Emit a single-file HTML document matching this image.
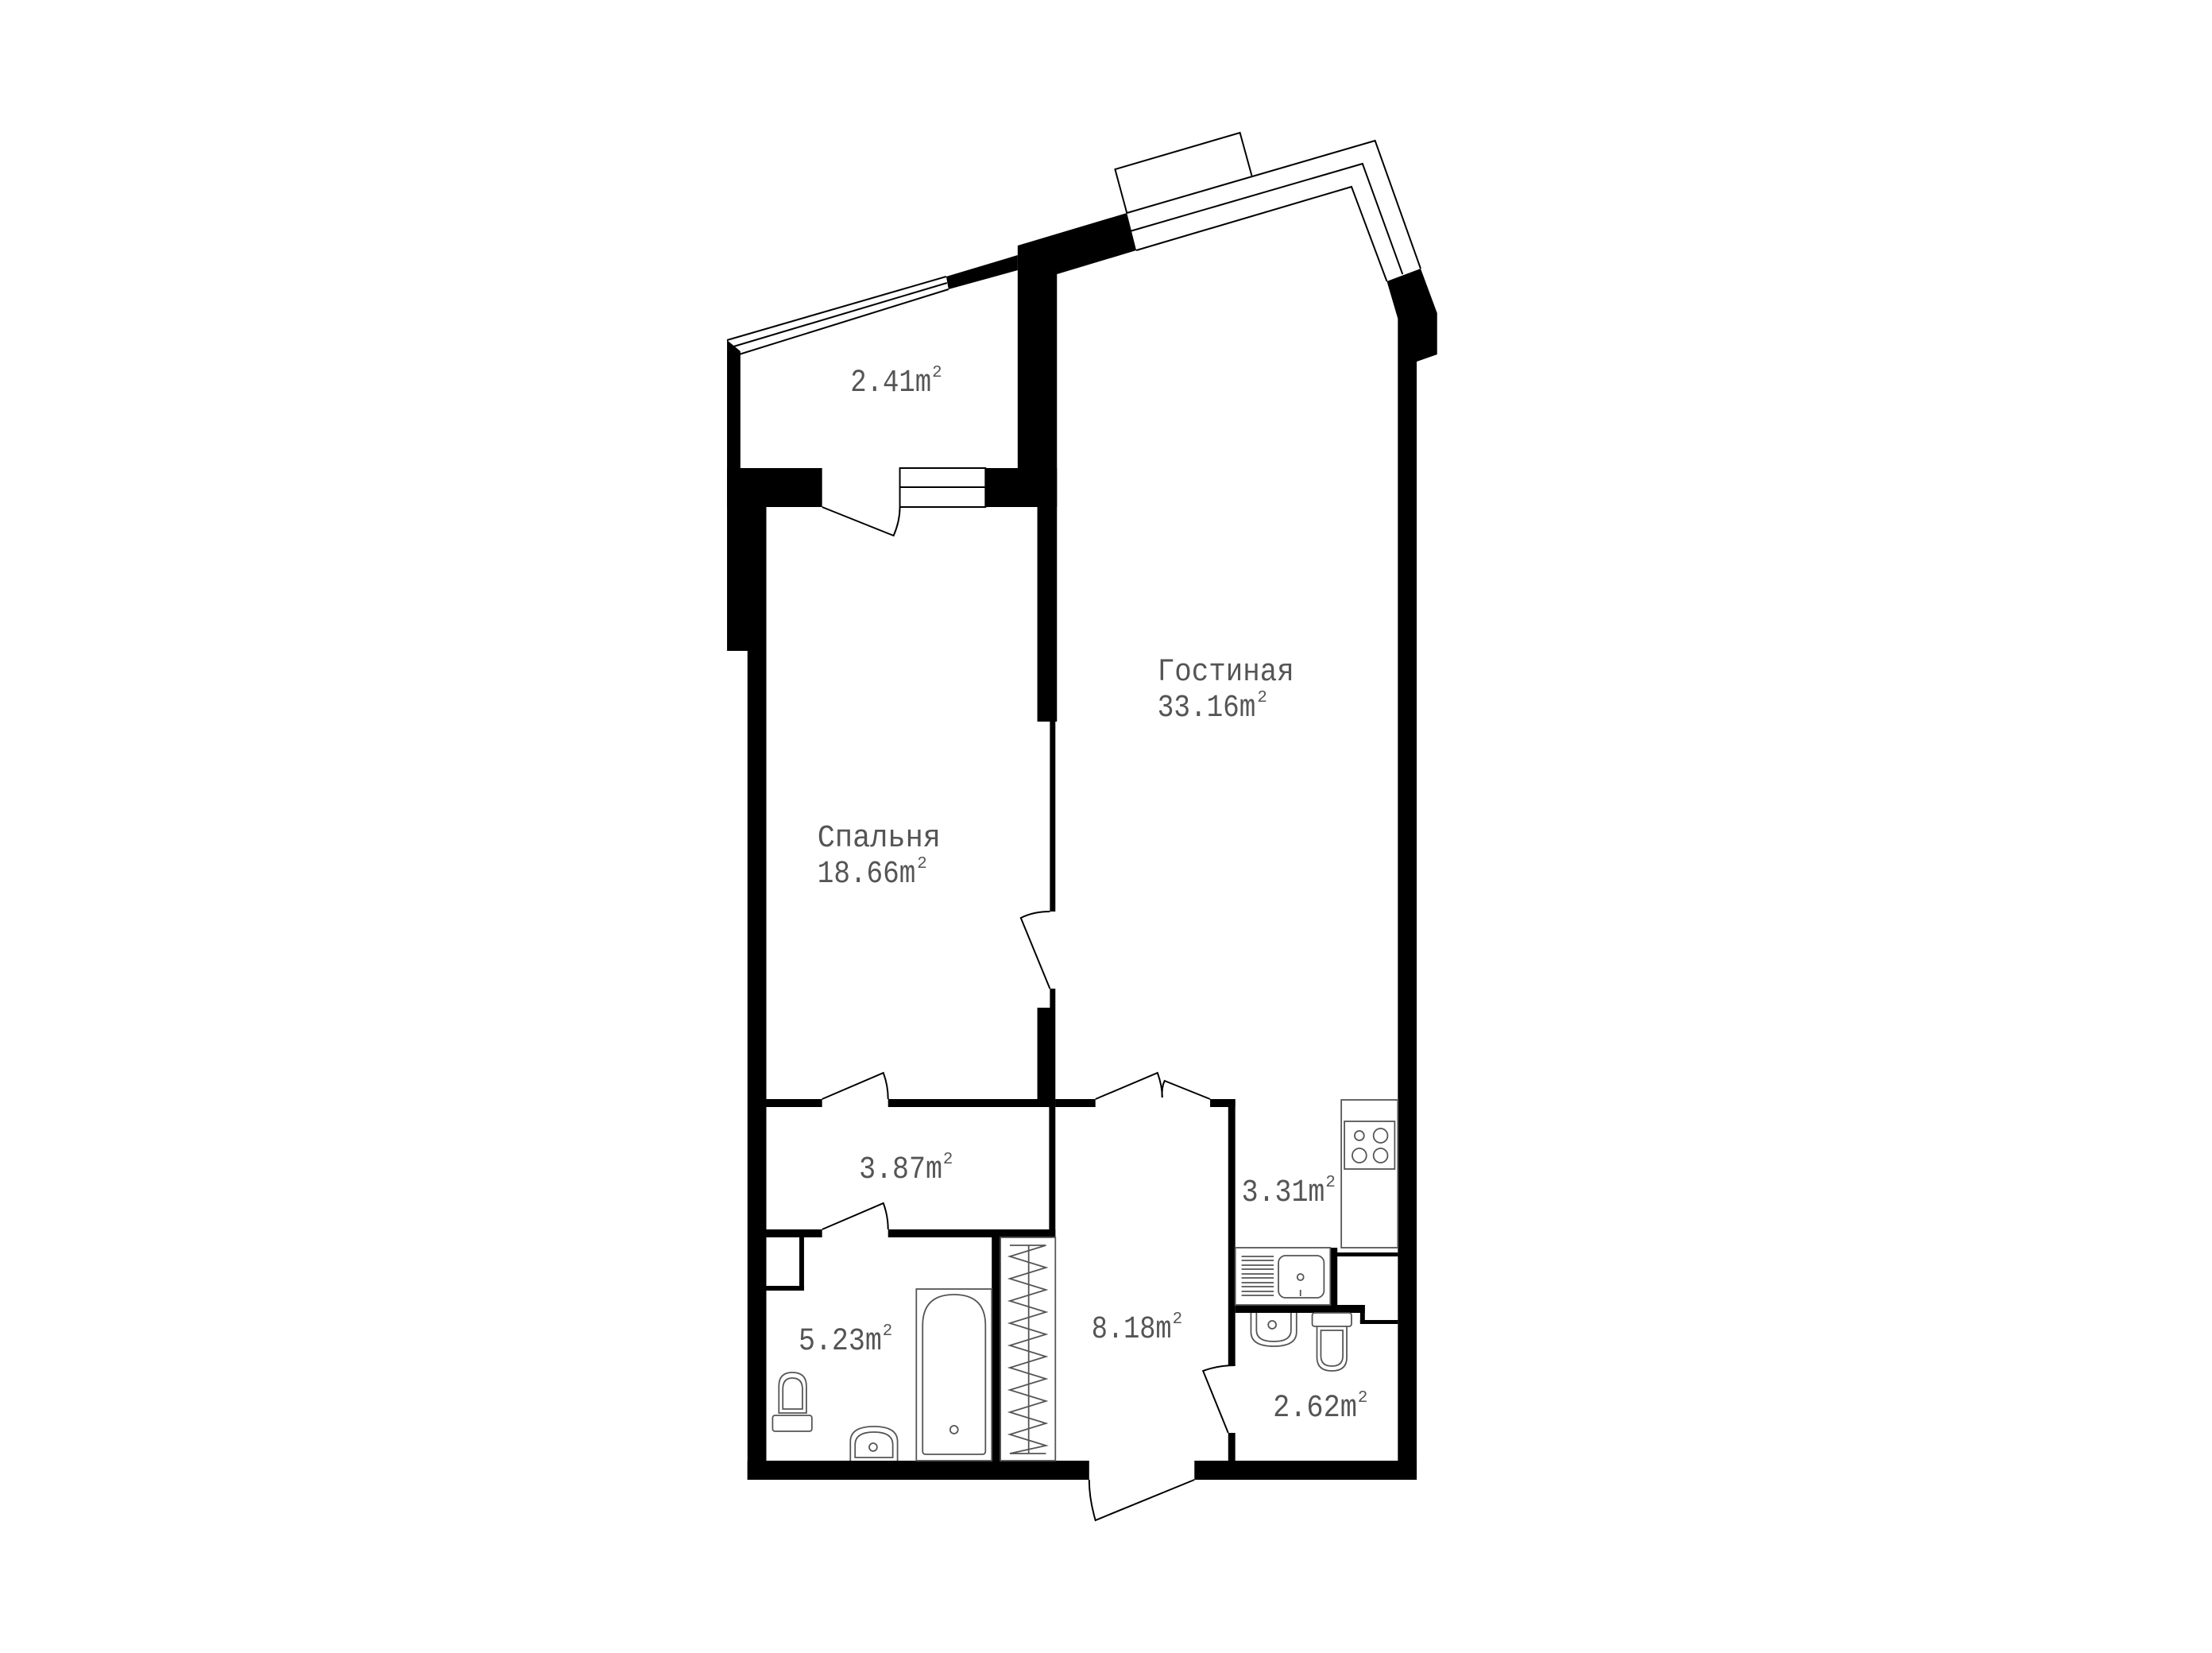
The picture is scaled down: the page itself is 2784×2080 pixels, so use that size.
<!DOCTYPE html>
<html><head><meta charset="utf-8"><style>
html,body{margin:0;padding:0;background:#fff;}
svg{display:block;}
text{font-family:"Liberation Mono","DejaVu Sans Mono",monospace;fill:#555;}
</style></head><body>
<svg width="2784" height="2080" viewBox="0 0 2784 2080" xmlns="http://www.w3.org/2000/svg">
<rect width="2784" height="2080" fill="#fff"/>
<g transform="translate(920,-4) scale(0.9886,1) translate(-920,0)">
<g fill="#000" stroke="none">
<polygon points="915,432 932,446 932,593 915,593"/>
<rect x="915" y="593" width="49" height="230"/>
<rect x="941" y="593" width="24" height="1273"/>
<rect x="915" y="593" width="121" height="49"/>
<rect x="1244" y="593" width="91" height="49"/>
<polygon points="1285,313 1424,272 1436,319 1335,349 1335,642 1285,642"/>
<polygon points="1194,352 1285,325 1285,344 1197,368"/>
<rect x="1310" y="642" width="25" height="270"/>
<rect x="1326" y="912" width="7" height="239"/>
<rect x="1326" y="1248" width="7" height="24"/>
<rect x="1310" y="1272" width="23" height="123"/>
<polygon points="1755,358 1798,342 1819,398 1819,450 1793,459 1793,1866 1769,1866 1769,405"/>
<rect x="941" y="1842" width="435" height="24"/>
<rect x="1510" y="1842" width="283" height="24"/>
<rect x="965" y="1387" width="71" height="10"/>
<rect x="1120" y="1387" width="213" height="10"/>
<rect x="1333" y="1387" width="51" height="10"/>
<rect x="1530" y="1387" width="32" height="10"/>
<rect x="1325" y="1395" width="8" height="166"/>
<rect x="965" y="1551" width="71" height="10"/>
<rect x="1120" y="1551" width="213" height="10"/>
<rect x="1007" y="1561" width="6" height="67"/>
<rect x="965" y="1622" width="48" height="6"/>
<rect x="1252" y="1561" width="11" height="281"/>
<rect x="1553" y="1387" width="9" height="335"/>
<rect x="1553" y="1807" width="9" height="35"/>
<rect x="1562" y="1646" width="165" height="10"/>
<rect x="1683" y="1574" width="9" height="82"/>
<rect x="1683" y="1580" width="86" height="5"/>
<rect x="1721" y="1646" width="6" height="24"/>
<rect x="1721" y="1665" width="48" height="5"/>
</g>
<g fill="none" stroke="#000" stroke-width="2">
<line x1="915" y1="432" x2="1194" y2="352"/>
<line x1="920" y1="441" x2="1195" y2="360"/>
<line x1="927" y1="451" x2="1197" y2="368"/>
<rect x="1135" y="593" width="109" height="49"/>
<line x1="1135" y1="617" x2="1244" y2="617"/>
<polyline points="1424,272 1740,181 1798,342"/>
<polyline points="1428,295 1724,210 1775,349"/>
<polyline points="1436,319 1710,239 1755,358"/>
<polyline points="1424,272 1409,217 1568,171 1583,225"/>
<path d="M1036,642 L1127,678 Q1135,660 1135,642"/>
<path d="M1326,1248 L1289,1159 Q1305,1151 1326,1151"/>
<path d="M1036,1387 L1114,1354 Q1120,1370 1120,1387"/>
<path d="M1036,1551 L1114,1518 Q1120,1534 1120,1551"/>
<path d="M1384,1387 L1463,1354 Q1469,1370 1469,1385"/>
<path d="M1530,1387 L1472,1364 Q1468,1372 1469,1385"/>
<path d="M1553,1807 L1521,1729 Q1540,1722 1562,1722"/>
<path d="M1510,1866 L1384,1917 Q1376,1890 1376,1866"/>
</g>
<g fill="none" stroke="#555" stroke-width="1.8">
<rect x="1263" y="1561" width="70" height="281"/>
<line x1="1299" y1="1571" x2="1299" y2="1833"/>
<polyline points="1275,1571 1321,1571 1275,1585 1321,1599 1275,1613 1321,1627 1275,1641 1321,1655 1275,1669 1321,1683 1275,1697 1321,1711 1275,1725 1321,1739 1275,1753 1321,1767 1275,1781 1321,1795 1275,1809 1321,1823 1275,1833 1321,1833"/>
<rect x="1156" y="1626" width="96" height="216"/>
<path d="M1164,1830 L1164,1672 Q1164,1633 1204,1633 Q1244,1633 1244,1672 L1244,1830 Q1244,1834 1240,1834 L1168,1834 Q1164,1834 1164,1830 Z"/>
<circle cx="1204" cy="1803" r="5"/>
<rect x="973" y="1785" width="50" height="20" rx="3"/>
<path d="M981,1782 L981,1748 Q981,1731 998,1731 Q1016,1731 1016,1748 L1016,1782 Z"/>
<path d="M986,1777 L986,1752 Q986,1738 998,1738 Q1011,1738 1011,1752 L1011,1777 Z"/>
<path d="M1072,1842 L1072,1818 Q1072,1799 1102,1799 Q1132,1799 1132,1818 L1132,1842"/>
<path d="M1078,1838 L1078,1822 Q1078,1806 1102,1806 Q1126,1806 1126,1822 L1126,1838 Z"/>
<circle cx="1101" cy="1825" r="5"/>
<rect x="1697" y="1388" width="72" height="186"/>
<rect x="1701" y="1415" width="64" height="60"/>
<circle cx="1720" cy="1433" r="6"/>
<circle cx="1747" cy="1433" r="9"/>
<circle cx="1720" cy="1458" r="9"/>
<circle cx="1747" cy="1458" r="9"/>
<rect x="1562" y="1574" width="121" height="72"/>
<line x1="1570" y1="1585" x2="1611" y2="1585"/>
<line x1="1570" y1="1590" x2="1611" y2="1590"/>
<line x1="1570" y1="1596" x2="1611" y2="1596"/>
<line x1="1570" y1="1601" x2="1611" y2="1601"/>
<line x1="1570" y1="1607" x2="1611" y2="1607"/>
<line x1="1570" y1="1612" x2="1611" y2="1612"/>
<line x1="1570" y1="1618" x2="1611" y2="1618"/>
<line x1="1570" y1="1623" x2="1611" y2="1623"/>
<line x1="1570" y1="1629" x2="1611" y2="1629"/>
<line x1="1570" y1="1634" x2="1611" y2="1634"/>
<rect x="1617" y="1584" width="58" height="53" rx="9"/>
<circle cx="1645" cy="1611" r="4"/>
<line x1="1645" y1="1627" x2="1645" y2="1635"/>
<path d="M1582,1656 L1582,1680 Q1582,1698 1611,1698 Q1640,1698 1640,1680 L1640,1656"/>
<path d="M1589,1656 L1589,1678 Q1589,1692 1611,1692 Q1633,1692 1633,1678 L1633,1656"/>
<circle cx="1609" cy="1671" r="5"/>
<rect x="1660" y="1656" width="50" height="17" rx="3"/>
<path d="M1666,1673 L1666,1712 Q1666,1729 1685,1729 Q1704,1729 1704,1712 L1704,1673"/>
<path d="M1671,1678 L1671,1710 Q1671,1723 1685,1723 Q1699,1723 1699,1710 L1699,1678 Z"/>
</g>
<g font-size="40">
<text x="1463" y="860" textLength="174" lengthAdjust="spacingAndGlyphs">Гостиная</text>
<text x="1463" y="905" textLength="125" lengthAdjust="spacingAndGlyphs">33.16m</text><text x="1590" y="887" font-size="21">2</text>
<text x="1030" y="1069" textLength="157" lengthAdjust="spacingAndGlyphs">Спальня</text>
<text x="1030" y="1114" textLength="125" lengthAdjust="spacingAndGlyphs">18.66m</text><text x="1157" y="1096" font-size="21">2</text>
<text x="1072" y="496" textLength="103" lengthAdjust="spacingAndGlyphs">2.41m</text><text x="1176" y="478" font-size="21">2</text>
<text x="1083" y="1486" textLength="106" lengthAdjust="spacingAndGlyphs">3.87m</text><text x="1190" y="1468" font-size="21">2</text>
<text x="1006" y="1702" textLength="106" lengthAdjust="spacingAndGlyphs">5.23m</text><text x="1113" y="1684" font-size="21">2</text>
<text x="1379" y="1687" textLength="102" lengthAdjust="spacingAndGlyphs">8.18m</text><text x="1482" y="1669" font-size="21">2</text>
<text x="1570" y="1515" textLength="106" lengthAdjust="spacingAndGlyphs">3.31m</text><text x="1677" y="1497" font-size="21">2</text>
<text x="1610" y="1786" textLength="107" lengthAdjust="spacingAndGlyphs">2.62m</text><text x="1718" y="1768" font-size="21">2</text>
</g>
</g>
</svg>
</body></html>
